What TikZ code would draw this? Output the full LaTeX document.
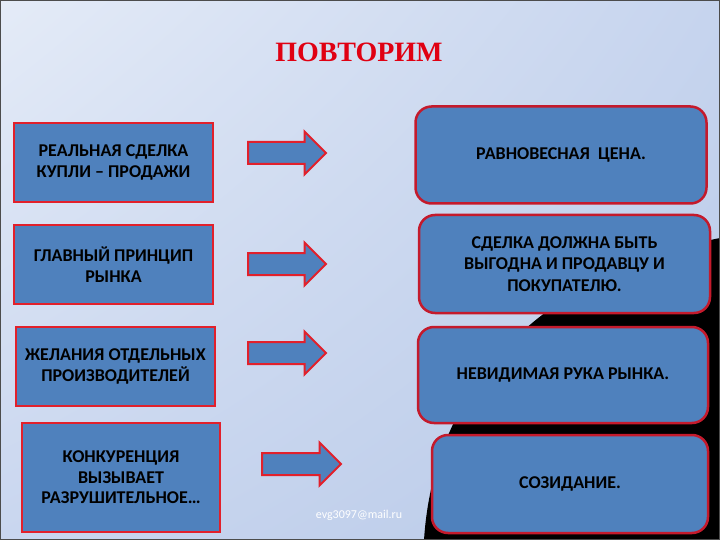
\documentclass[tikz,border=0pt]{standalone}
\usepackage{fontspec}
\setmainfont{Liberation Serif}
\newfontfamily\boxfont{Carlito}
\usetikzlibrary{shapes.arrows,shadings}
\definecolor{boxblue}{HTML}{4F81BD}
\definecolor{boxred}{HTML}{E2202B}
\definecolor{rimred}{HTML}{C41A2C}
\definecolor{titlered}{HTML}{E00012}
\definecolor{bgtl}{HTML}{E4EBF7}
\definecolor{bgtr}{HTML}{C6D4EE}
\definecolor{bgbl}{HTML}{C9D6EF}
\definecolor{bgbr}{HTML}{B9CAE8}
\begin{document}
\begin{tikzpicture}[x=1pt, y=-1pt,
  sqbox/.style={draw=boxred, line width=2.5pt, fill=boxblue, inner sep=0pt,
    minimum width=199pt, minimum height=79pt, align=center,
    font=\boxfont\bfseries\fontsize{18}{20.5}\selectfont},
  rndbox/.style={sqbox, draw=rimred, rounded corners=16pt,
    minimum width=291pt, minimum height=97pt,
    font=\boxfont\bfseries\fontsize{18}{21.5}\selectfont},
  blockarrow/.style={single arrow, draw=boxred, line width=2pt, fill=boxblue,
    inner xsep=0pt, inner ysep=10pt, minimum height=78pt, minimum width=41pt,
    single arrow head extend=10.5pt, anchor=tail}]
\useasboundingbox (0,0) rectangle (720,540);

% Background
\shade[upper left=bgtl, upper right=bgtr, lower left=bgbl, lower right=bgbr] (0,0) rectangle (720,540);
\fill[black] (720,238) .. controls (560,270) and (435,370) .. (424,540) -- (720,540) -- cycle;
\draw[line width=2pt, black!70] (0,0) rectangle (720,540);

% Title
\node[font=\bfseries\fontsize{28}{28}\selectfont, text=titlered] (title) at (359,52) {ПОВТОРИМ};

% Left boxes
\node[sqbox] (deal) at (113.5,162.5) {РЕАЛЬНАЯ СДЕЛКА\\КУПЛИ – ПРОДАЖИ};
\node[sqbox] (rule) at (113.5,264.5) {ГЛАВНЫЙ ПРИНЦИП\\РЫНКА};
\node[sqbox] (wish) at (115.5,366.5) {ЖЕЛАНИЯ ОТДЕЛЬНЫХ\\ПРОИЗВОДИТЕЛЕЙ};
\node[sqbox, minimum width=198pt, minimum height=109pt] (rival) at (121,477.5) {КОНКУРЕНЦИЯ\\ВЫЗЫВАЕТ\\РАЗРУШИТЕЛЬНОЕ…};

% Arrows
\node[blockarrow] (arrA) at (247,153) {};
\node[blockarrow] (arrB) at (247,264) {};
\node[blockarrow] (arrC) at (247,353) {};
\node[blockarrow, minimum height=79pt] (arrD) at (261,464) {};

% Right boxes
\node[rndbox] (price) at (561,155) {РАВНОВЕСНАЯ \ ЦЕНА.};
\node[rndbox, minimum height=98pt] (gain) at (564.5,264) {СДЕЛКА ДОЛЖНА БЫТЬ\\ВЫГОДНА И ПРОДАВЦУ И\\ПОКУПАТЕЛЮ.};
\node[rndbox, minimum width=290pt, minimum height=96pt] (hand) at (563,375) {НЕВИДИМАЯ РУКА РЫНКА.};
\node[rndbox, minimum width=276pt, minimum height=98pt] (make) at (570,484) {СОЗИДАНИЕ.};

% Mail
\node[font=\boxfont\fontsize{12}{14}\selectfont, text=white] (mail) at (359,515) {evg3097@mail.ru};

\end{tikzpicture}
\end{document}
